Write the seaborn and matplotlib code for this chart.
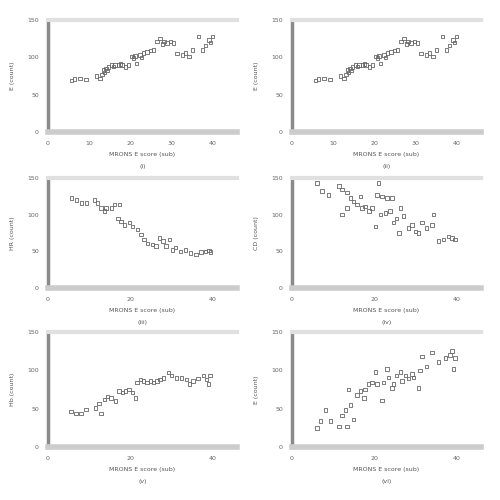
import numpy as np
import pandas as pd
import seaborn as sns
import matplotlib.pyplot as plt

# valores (aprox.)
x_e = [5.7, 6.5, 7.8, 9.2, 11.8, 12.7, 13.1, 13.5, 13.8, 14.1, 14.4, 14.7, 15.5, 15.9, 16.3,
       17.1, 17.6, 18.0, 18.8, 19.6, 20.4, 20.8, 21.2, 21.6, 22.4, 22.8, 23.3, 24.1, 24.9,
       25.7, 26.5, 27.3, 27.8, 28.2, 29.0, 29.8, 30.6, 31.4, 32.7, 33.5, 34.3, 35.1, 36.7,
       37.6, 38.4, 39.2, 39.6, 40.0]
y_e = [69, 71, 72, 70, 75, 72, 77, 83, 80, 85, 82, 87, 90, 88, 90,
       90, 91, 90, 87, 90, 101, 99, 102, 92, 103, 100, 106, 107, 109,
       110, 121, 125, 118, 121, 119, 121, 119, 105, 103, 106, 101, 110, 128,
       110, 116, 123, 120, 128]

x_hr = [5.7, 6.9, 8.1, 9.3, 11.3, 12.1, 12.9, 13.7, 14.1, 15.4, 16.2, 17.4, 17.0, 17.8, 18.6,
        19.8, 20.6, 21.8, 22.6, 23.4, 24.2, 25.5, 26.3, 27.1, 28.0, 28.7, 29.5, 30.3, 31.1,
        32.3, 33.5, 34.7, 36.0, 37.2, 38.4, 39.2, 39.6]
y_hr = [123, 120, 116, 116, 120, 116, 109, 105, 109, 109, 114, 114, 95, 91, 86,
        89, 84, 80, 73, 66, 61, 59, 57, 68, 64, 57, 66, 52, 55,
        50, 52, 48, 46, 49, 50, 51, 49]

x_cd = [6.1, 7.3, 8.9, 11.4, 12.2, 13.4, 14.2, 15.0, 12.2, 13.4, 15.8, 16.6, 17.0, 17.8, 18.7,
        19.5, 20.3, 21.1, 20.7, 21.9, 23.1, 24.3, 21.5, 22.7, 23.9, 24.7, 25.5, 26.4, 27.2,
        26.0, 28.4, 29.2, 30.0, 30.8, 31.6, 32.8, 34.1, 34.5, 35.7, 36.9, 38.1, 38.9, 39.7]
y_cd = [143, 132, 127, 139, 134, 130, 123, 118, 100, 109, 114, 125, 109, 111, 105,
        109, 84, 143, 127, 125, 123, 123, 100, 102, 105, 89, 95, 109, 98,
        75, 82, 86, 77, 75, 89, 82, 86, 100, 64, 66, 70, 68, 66]

x_hb = [5.6, 6.8, 8.0, 9.2, 11.6, 12.4, 12.9, 13.7, 14.5, 15.3, 16.5, 17.3, 18.1, 18.9, 19.7,
        20.5, 21.3, 21.7, 22.5, 23.3, 24.1, 24.9, 25.7, 26.5, 27.3, 28.1, 29.3, 30.1, 31.3,
        32.5, 33.7, 34.5, 35.3, 36.5, 37.8, 38.6, 39.0, 39.4]
y_hb = [46, 44, 44, 49, 51, 57, 44, 62, 66, 64, 60, 73, 71, 73, 75,
        71, 64, 84, 88, 86, 84, 86, 84, 86, 88, 90, 97, 93, 90,
        90, 88, 82, 86, 89, 93, 88, 82, 93]

x_e2 = [6.1, 6.9, 8.1, 9.3, 11.4, 12.2, 13.0, 13.4, 14.2, 15.0, 13.8, 15.8, 16.6, 17.5, 17.8,
        18.6, 19.5, 20.3, 20.7, 21.9, 22.3, 23.1, 23.5, 24.3, 24.7, 25.5, 26.4, 26.8, 27.6,
        28.4, 29.2, 29.6, 30.8, 31.2, 31.6, 32.8, 34.1, 35.7, 37.3, 38.5, 38.9, 39.7, 39.3]
y_e2 = [25, 34, 48, 34, 27, 41, 48, 27, 55, 36, 75, 68, 73, 64, 75,
        82, 84, 98, 82, 61, 84, 102, 91, 77, 82, 93, 98, 86, 93,
        89, 95, 91, 77, 100, 118, 105, 123, 111, 116, 120, 125, 116, 102]

paneles = [
    (x_e, y_e, 'E (count)', '(i)', [0, 10, 20, 30, 40]),
    (x_e, y_e, 'E (count)', '(ii)', [0, 10, 20, 30, 40]),
    (x_hr, y_hr, 'HR (count)', '(iii)', [0, 20, 40]),
    (x_cd, y_cd, 'CD (count)', '(iv)', [0, 20, 40]),
    (x_hb, y_hb, 'Hb (count)', '(v)', [0, 20, 40]),
    (x_e2, y_e2, 'E (count)', '(vi)', [0, 20, 40]),
]

sns.set_style('white')
plt.rcParams['font.family'] = ['DejaVu Sans']

fig = plt.figure(figsize=(5, 5), dpi=100)
lefts = [0.096, 0.584]
filas = [(0.736, 0.224), (0.424, 0.22), (0.106, 0.23)]

for i, (xs, ys, ylab, etiqueta, xt) in enumerate(paneles):
    fila, col = divmod(i, 2)
    b, h = filas[fila]
    ax = fig.add_axes([lefts[col], b, 0.378, h])
    df = pd.DataFrame({'x': xs, 'y': ys})
    sns.scatterplot(data=df, x='x', y='y', ax=ax, marker='s', s=6,
                    facecolor='none', edgecolor='#666666', linewidth=0.6)
    ax.set_xlim(0, 46)
    ax.set_ylim(0, 150)
    ax.set_xticks(xt)
    ax.set_yticks([0, 50, 100, 150])
    if fila > 0:
        ax.set_yticks([25, 75, 125], minor=True)
    ax.tick_params(axis='both', which='both', labelsize=4.5, colors='#666666',
                   length=3, width=1, direction='out')
    ax.spines['right'].set_visible(False)
    ax.spines['left'].set_color('#8a8a8a')
    ax.spines['left'].set_linewidth(2.5)
    ax.spines['bottom'].set_color('#cccccc')
    ax.spines['bottom'].set_linewidth(4)
    ax.spines['top'].set_color('#e0e0e0')
    ax.spines['top'].set_linewidth(3)
    ax.set_ylabel(ylab, fontsize=4.5, color='#555555', labelpad=9)
    ax.set_xlabel('MRONS E score (sub)\n\n' + etiqueta, fontsize=4.5,
                  color='#555555', labelpad=4, linespacing=1.3)

plt.savefig('out.png', dpi=100)
